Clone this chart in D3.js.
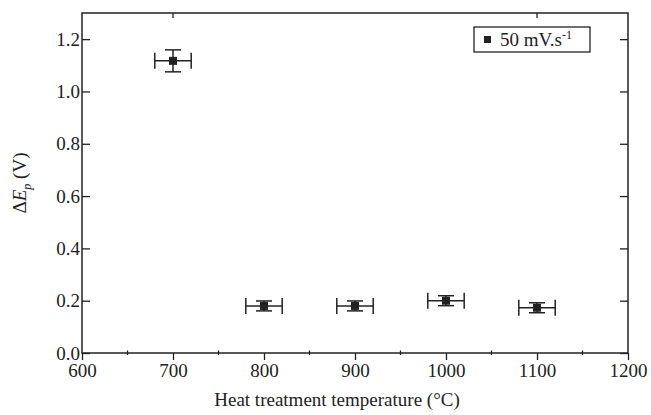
<!DOCTYPE html>
<html>
<head>
<meta charset="utf-8">
<script src="https://cdn.jsdelivr.net/npm/d3@7"></script>
<style>
  body { margin: 0; background: #fff; }
  svg text { font-family: "Liberation Serif", "Times New Roman", serif; fill: #222; }
</style>
</head>
<body>
<svg id="chart" width="651" height="415"></svg>
<script>
// heat treatment temperature (°C) and peak separation ΔEp (V)
const temps = [700, 800, 900, 1000, 1100]
const deltaEp = [1.117, 0.180, 0.180, 0.200, 0.173]
const errY = [0.042, 0.019, 0.019, 0.019, 0.019]
const errX = [20, 20, 20, 20, 20]
const xTicks = [600, 700, 800, 900, 1000, 1100, 1200]
const xMinor = [650, 750, 850, 950, 1050, 1150]
const xTopTicks = [700, 1100]
const yTicks = [0.0, 0.2, 0.4, 0.6, 0.8, 1.0, 1.2]
const legendLabel = "50 mV.s"

const svg = d3.select("#chart"),
      margin = {top: 13, right: 23, bottom: 62, left: 82},
      width = +svg.attr("width") - margin.left - margin.right,
      height = +svg.attr("height") - margin.top - margin.bottom,
      g = svg.append("g")
             .attr("transform", "translate(" + margin.left + "," + margin.top + ")")

const ink = "#222"

let x = d3.scaleLinear()
          .domain([600, 1200])
          .range([0, width])

let y = d3.scaleLinear()
          .domain([0, 1.3])
          .range([height, 0])

const points = temps.map((t, i) => ({x: t, y: deltaEp[i], ex: errX[i], ey: errY[i]}))

// bottom axis: major ticks outward, minor ones small
let xAxis = g.append("g")
             .attr("transform", "translate(0," + height + ")")
             .call(d3.axisBottom(x).tickValues(xTicks).tickSize(7).tickPadding(4).tickFormat(d3.format("d")))
xAxis.select(".domain").remove()
xAxis.selectAll("line").attr("stroke", ink).attr("stroke-width", 1.3)
xAxis.selectAll("text").style("font-size", "19px")

g.selectAll(".xminor")
 .data(xMinor)
 .join("line")
 .attr("x1", d => x(d)).attr("x2", d => x(d))
 .attr("y1", height - 2.5).attr("y2", height + 2)
 .attr("stroke", ink).attr("stroke-width", 1.3)

// left axis, ticks pointing inward
let yAxis = g.append("g")
             .call(d3.axisLeft(y).tickValues(yTicks).tickSize(-8).tickPadding(2).tickFormat(d3.format(".1f")))
yAxis.select(".domain").remove()
yAxis.selectAll("line").attr("stroke", ink).attr("stroke-width", 1.3)
yAxis.selectAll("text").style("font-size", "19px")

// right axis ticks, inward
g.append("g")
 .attr("transform", "translate(" + width + ",0)")
 .call(d3.axisRight(y).tickValues(yTicks).tickSize(-8).tickFormat(""))
 .call(a => a.select(".domain").remove())
 .selectAll("line").attr("stroke", ink).attr("stroke-width", 1.3)

// top ticks
g.selectAll(".xtop")
 .data(xTopTicks)
 .join("line")
 .attr("x1", d => x(d)).attr("x2", d => x(d))
 .attr("y1", 0).attr("y2", 5)
 .attr("stroke", ink).attr("stroke-width", 1.3)

// frame
g.append("rect")
 .attr("width", width).attr("height", height)
 .attr("fill", "none").attr("stroke", ink).attr("stroke-width", 1.5)

// error bars
let bars = g.selectAll(".pt")
            .data(points)
            .join("g")
            .attr("class", "pt")
const cap = 8
bars.append("line")
    .attr("x1", d => x(d.x - d.ex)).attr("x2", d => x(d.x + d.ex))
    .attr("y1", d => y(d.y)).attr("y2", d => y(d.y))
bars.append("line")
    .attr("x1", d => x(d.x - d.ex)).attr("x2", d => x(d.x - d.ex))
    .attr("y1", d => y(d.y) - cap).attr("y2", d => y(d.y) + cap)
bars.append("line")
    .attr("x1", d => x(d.x + d.ex)).attr("x2", d => x(d.x + d.ex))
    .attr("y1", d => y(d.y) - cap).attr("y2", d => y(d.y) + cap)
bars.append("line")
    .attr("x1", d => x(d.x)).attr("x2", d => x(d.x))
    .attr("y1", d => y(d.y - d.ey)).attr("y2", d => y(d.y + d.ey))
bars.append("line")
    .attr("x1", d => x(d.x) - cap).attr("x2", d => x(d.x) + cap)
    .attr("y1", d => y(d.y + d.ey)).attr("y2", d => y(d.y + d.ey))
bars.append("line")
    .attr("x1", d => x(d.x) - cap).attr("x2", d => x(d.x) + cap)
    .attr("y1", d => y(d.y - d.ey)).attr("y2", d => y(d.y - d.ey))
bars.selectAll("line").attr("stroke", ink).attr("stroke-width", 1.5)
bars.append("rect")
    .attr("x", d => x(d.x) - 4).attr("y", d => y(d.y) - 4)
    .attr("width", 8).attr("height", 8)
    .attr("fill", ink)

// legend
let leg = g.append("g")
           .attr("transform", "translate(" + (width - 154) + ",14)")
leg.append("rect")
   .attr("width", 116).attr("height", 25)
   .attr("fill", "#fff").attr("stroke", ink).attr("stroke-width", 1.3)
leg.append("rect")
   .attr("x", 10).attr("y", 9).attr("width", 7).attr("height", 7)
   .attr("fill", ink)
let lt = leg.append("text")
            .attr("x", 26).attr("y", 19)
            .style("font-size", "19px")
            .text(legendLabel)
lt.append("tspan")
  .attr("dy", -7)
  .style("font-size", "12px")
  .text("-1")

// axis titles
g.append("text")
 .attr("x", width / 2 - 18).attr("y", height + 53)
 .attr("text-anchor", "middle")
 .style("font-size", "19px")
 .text("Heat treatment temperature (°C)")

let yl = g.append("text")
          .attr("transform", "translate(-56," + (height / 2) + ") rotate(-90)")
          .attr("text-anchor", "middle")
          .style("font-size", "19px")
yl.append("tspan").text("Δ")
yl.append("tspan").style("font-style", "italic").text("E")
yl.append("tspan").attr("dy", 5).style("font-style", "italic").style("font-size", "12px").text("p")
yl.append("tspan").attr("dy", -5).text(" (V)")
</script>
</body>
</html>
